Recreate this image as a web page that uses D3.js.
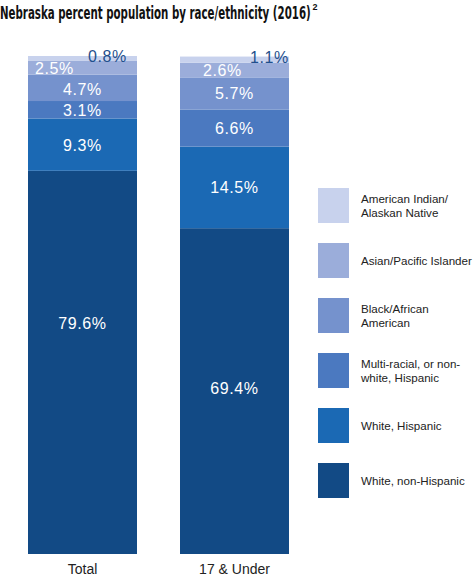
<!DOCTYPE html>
<html>
<head>
<meta charset="utf-8">
<script src="https://cdn.jsdelivr.net/npm/d3@7"></script>
<style>
  html, body { margin: 0; padding: 0; background: #fff; }
  svg { display: block; }
</style>
</head>
<body>
<svg id="chart" width="474" height="580"></svg>
<script>
// ---- data ----
const categories = ["Total", "17 & Under"];
const series = [
  "White, non-Hispanic",
  "White, Hispanic",
  "Multi-racial, or non-white, Hispanic",
  "Black/African American",
  "Asian/Pacific Islander",
  "American Indian/Alaskan Native"
];
const totalValues = [79.6, 9.3, 3.1, 4.7, 2.5, 0.8];
const under17Values = [69.4, 14.5, 6.6, 5.7, 2.6, 1.1];
const legendLines = [
  ["White, non-Hispanic"],
  ["White, Hispanic"],
  ["Multi-racial, or non-", "white, Hispanic"],
  ["Black/African", "American"],
  ["Asian/Pacific Islander"],
  ["American Indian/", "Alaskan Native"]
];
const title = "Nebraska percent population by race/ethnicity (2016)";
const titleNote = "2";

// ---- styles ----
const colors = ["#124a85", "#1b69b4", "#4b79c0", "#7592cd", "#9badda", "#c8d2ed"];
const smallLabelColor = "#1f4f8c";
// manual label nudges (px) as in the reference layout
const labelDx = [[0, 0, 0, 0, -28, 25], [0, 0, 0, 0, -12, 35]];
const labelDy = [[-39, 0, 0, 1, 0, 0], [-3, 0, 0, 0, 0, 0]];

const svg = d3.select("#chart");
const valuesByCat = [totalValues, under17Values];

const x = d3.scaleBand().domain(categories).range([12.8, 304.2]).paddingInner(0.283).paddingOuter(0.1);
const y = d3.scaleLinear().domain([11.5, 100]).range([554, 56]);

// title: condensed horizontally (the reference uses a condensed face)
const titleEl = svg.append("text")
  .attr("x", 0).attr("y", 0)
  .attr("font-family", "'Liberation Sans Narrow', 'DejaVu Sans Condensed', 'Liberation Sans', sans-serif")
  .attr("font-weight", "bold")
  .attr("font-size", 18)
  .attr("fill", "#111")
  .text(title);
const titleW = 311;
const natW = titleEl.node().getComputedTextLength();
const sx = natW > titleW ? titleW / natW : 1;
titleEl.attr("transform", `translate(0,19) scale(${sx},1)`);
svg.append("text")
  .attr("x", natW * sx + 1.5).attr("y", 10)
  .attr("font-family", "'Liberation Sans Narrow', 'Liberation Sans', sans-serif")
  .attr("font-weight", "bold")
  .attr("font-size", 9)
  .attr("fill", "#111")
  .text(titleNote);

// stacked bars
categories.forEach((cat, ci) => {
  const vals = valuesByCat[ci];
  let cum = 0;
  const segs = vals.map((v, i) => {
    const s = { cat, i, v, y0: cum, y1: cum + v };
    cum += v;
    return s;
  });
  const lo = y.domain()[0];
  const g = svg.append("g");
  g.selectAll("rect").data(segs).join("rect")
    .attr("x", x(cat))
    .attr("width", x.bandwidth())
    .attr("y", d => y(Math.max(d.y1, lo)))
    .attr("height", d => y(Math.max(d.y0, lo)) - y(Math.max(d.y1, lo)))
    .attr("fill", d => colors[d.i]);

  g.selectAll("text").data(segs).join("text")
    .attr("x", d => x(cat) + x.bandwidth() / 2 + labelDx[ci][d.i])
    .attr("y", d => {
      if (d.i === 5) return y(d.y1) + 6 + labelDy[ci][d.i];
      const mid = (y(Math.max(d.y0, lo)) + y(d.y1)) / 2;
      return mid + 6 + labelDy[ci][d.i];
    })
    .attr("text-anchor", "middle")
    .attr("font-family", "'Liberation Sans', Arial, sans-serif")
    .attr("font-size", 16)
    .attr("letter-spacing", 0.6)
    .attr("fill", d => d.i === 5 ? smallLabelColor : "#fff")
    .text(d => d.v.toFixed(1) + "%");
});

// category axis labels
const xAxis = d3.axisBottom(x).tickSize(0).tickPadding(10);
const ax = svg.append("g").attr("transform", "translate(0,554)").call(xAxis);
ax.select(".domain").remove();
ax.selectAll("text")
  .attr("font-family", "'Liberation Sans', Arial, sans-serif")
  .attr("font-size", 14)
  .attr("fill", "#222");

// legend (top: lightest)
const legendOrder = d3.range(series.length).reverse();
const lg = svg.append("g");
legendOrder.forEach((si, k) => {
  const yTop = 188 + k * 55;
  lg.append("rect")
    .attr("x", 318).attr("y", yTop)
    .attr("width", 31).attr("height", 35)
    .attr("fill", colors[si]);
  const lines = legendLines[si];
  const txt = lg.append("text")
    .attr("font-family", "'Liberation Sans', Arial, sans-serif")
    .attr("font-size", 11.6)
    .attr("fill", "#222");
  const startY = yTop + 17.5 + 4 - (lines.length - 1) * 7;
  lines.forEach((ln, li) => {
    txt.append("tspan").attr("x", 361).attr("y", startY + li * 14).text(ln);
  });
});
</script>
</body>
</html>
